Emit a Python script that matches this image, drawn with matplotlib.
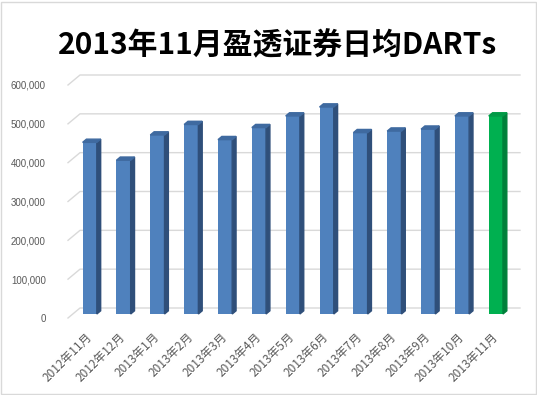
import matplotlib.pyplot as plt
from matplotlib.patches import Polygon, Rectangle

months = ["2012年11月", "2012年12月", "2013年1月", "2013年2月", "2013年3月",
          "2013年4月", "2013年5月", "2013年6月", "2013年7月", "2013年8月",
          "2013年9月", "2013年10月", "2013年11月"]
darts = [442000, 396000, 461000, 488000, 449000, 480000, 510000,
         533000, 467000, 471000, 476000, 510000, 510000]
yticks = [0, 100000, 200000, 300000, 400000, 500000, 600000]

W, H = 537, 395
fig = plt.figure(figsize=(W / 100, H / 100), dpi=100)
fig.patches.append(Rectangle((0.002, 0.002), 0.996, 0.994, transform=fig.transFigure,
                             fill=False, edgecolor="#d9d9d9", lw=1))

# front plane of the 3d box, in pixels
left, right, bottom, top = 68, 508, 318, 85
ax = fig.add_axes([left / W, 1 - bottom / H, (right - left) / W, (bottom - top) / H])
ax.set_xlim(-0.5, len(months) - 0.5)
ax.set_ylim(0, 600000)
for s in ax.spines.values():
    s.set_visible(False)

px_x = (right - left) / len(months)      # pixels per x unit
px_y = (bottom - top) / 600000           # pixels per data unit
depth_x, depth_y = 12, 10                # depth of box in pixels


def shift(z):
    return z * depth_x / px_x, z * depth_y / px_y


# back-wall gridlines with the little diagonal on the left wall
bx, by = shift(1)
x0, x1 = ax.get_xlim()
for t in yticks:
    ax.plot([x0, x0 + bx, x1 + bx], [t, t + by, t + by], color="#d9d9d9",
            lw=1, clip_on=False, zorder=1)

# bars
zf, zb = 0.4, 0.72
fx, fy = shift(zf)
kx, ky = shift(zb)
w = 0.42
for i, v in enumerate(darts):
    if i == len(darts) - 1:
        front, side, topc = "#00b050", "#00803a", "#009a46"
    else:
        front, side, topc = "#4f81bd", "#2f4f7a", "#3f6aa0"
    l, r = i - w / 2 + fx, i + w / 2 + fx
    ax.bar(i + fx, v, width=w, bottom=fy, color=front, zorder=3)
    ax.add_patch(Polygon([(r, fy), (r + kx - fx, ky), (r + kx - fx, v + ky), (r, v + fy)],
                         closed=True, color=side, zorder=3, clip_on=False))
    ax.add_patch(Polygon([(l, v + fy), (r, v + fy), (r + kx - fx, v + ky), (l + kx - fx, v + ky)],
                         closed=True, color=topc, zorder=3, clip_on=False))

ax.set_yticks(yticks)
ax.set_yticklabels(["{:,}".format(t) for t in yticks], family="Liberation Sans",
                   fontsize=7, color="#595959")
ax.tick_params(axis="y", length=0, pad=16)
ax.set_xticks(range(len(months)))
ax.set_xticklabels(months, rotation=45, ha="right", va="top", rotation_mode="anchor",
                   family=["Noto Sans CJK SC", "DejaVu Sans"], fontsize=8.5, color="#595959")
ax.tick_params(axis="x", length=0, pad=9)

fig.text(277.5 / W, 1 - 45 / H, "2013年11月盈透证券日均DARTs", ha="center", va="center",
         fontsize=21.5, fontweight="bold", family=["Noto Sans CJK SC", "DejaVu Sans"])

fig.savefig("out.png", dpi=100)
